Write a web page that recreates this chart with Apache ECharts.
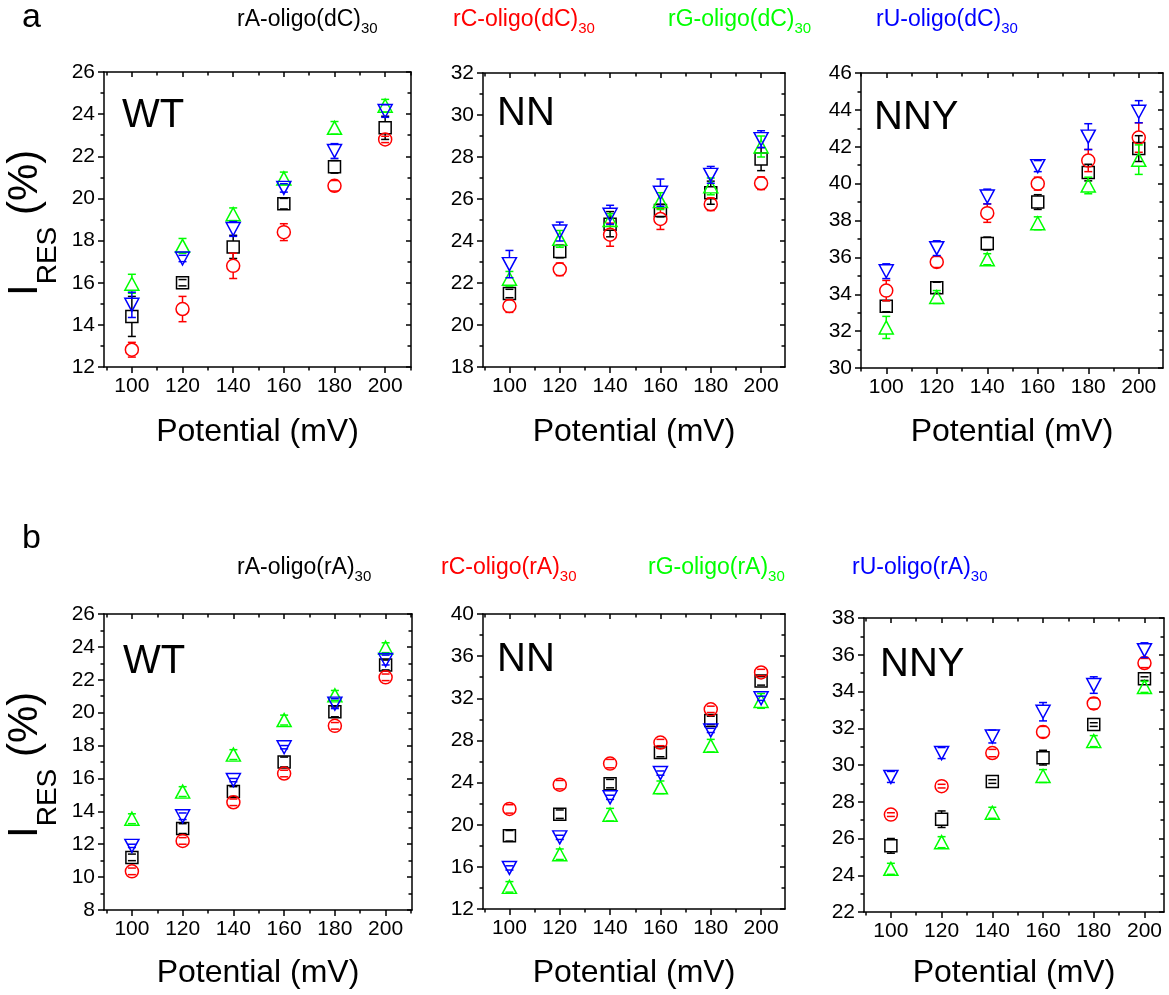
<!DOCTYPE html>
<html>
<head>
<meta charset="utf-8">
<script src="https://cdn.jsdelivr.net/npm/echarts@6/dist/echarts.min.js"></script>
<style>
  html, body { margin: 0; padding: 0; background: #ffffff; }
  #chart { width: 1169px; height: 995px; }
</style>
</head>
<body>
<div id="chart"></div>
<script>
// ---- data -------------------------------------------------------------
const potentials = [100, 120, 140, 160, 180, 200];          // mV
const seriesColors = ['#000000', '#ff0000', '#00ff00', '#0000ff'];
const legendDC = ['rA-oligo(dC)', 'rC-oligo(dC)', 'rG-oligo(dC)', 'rU-oligo(dC)'];
const legendRA = ['rA-oligo(rA)', 'rC-oligo(rA)', 'rG-oligo(rA)', 'rU-oligo(rA)'];
const legendSub = '30';
const panelNames = ['WT', 'NN', 'NNY', 'WT', 'NN', 'NNY'];

// rows: rA, rC, rG, rU  (I_RES in %)
const wtDC = [
  [14.4, 16.0, 17.7, 19.75, 21.5, 23.35],
  [12.82, 14.75, 16.8, 18.4, 20.6, 22.8],
  [15.95, 17.75, 19.25, 20.95, 23.35, 24.4],
  [14.95, 17.15, 18.55, 20.5, 22.25, 24.15]
];
const wtDCErr = [
  [0.95, 0.15, 0.55, 0.25, 0.3, 0.55],
  [0.35, 0.6, 0.6, 0.4, 0.25, 0.15],
  [0.45, 0.35, 0.3, 0.3, 0.3, 0.3],
  [0.6, 0.15, 0.35, 0.2, 0.35, 0.3]
];
const nnDC = [
  [21.5, 23.5, 24.8, 25.45, 26.3, 27.9],
  [20.9, 22.65, 24.3, 25.05, 25.75, 26.75],
  [22.2, 24.1, 25.0, 25.9, 26.6, 28.5],
  [22.9, 24.45, 25.25, 26.3, 27.15, 28.85]
];
const nnDCErr = [
  [0.2, 0.3, 0.6, 0.3, 0.55, 0.55],
  [0.3, 0.3, 0.55, 0.5, 0.3, 0.3],
  [0.35, 0.4, 0.3, 0.4, 0.4, 0.5],
  [0.65, 0.45, 0.45, 0.65, 0.4, 0.4]
];
const nnyDC = [
  [33.35, 34.35, 36.75, 39.0, 40.6, 41.9],
  [34.2, 35.75, 38.4, 40.0, 41.25, 42.5],
  [32.2, 33.85, 35.9, 37.85, 39.9, 41.3],
  [35.25, 36.5, 39.3, 40.95, 42.55, 43.9]
];
const nnyDCErr = [
  [0.3, 0.3, 0.35, 0.4, 0.45, 0.7],
  [0.55, 0.3, 0.5, 0.35, 0.6, 0.8],
  [0.6, 0.35, 0.3, 0.35, 0.45, 0.8],
  [0.4, 0.4, 0.4, 0.3, 0.7, 0.6]
];
const wtRA = [
  [11.2, 12.95, 15.2, 17.0, 20.05, 22.9],
  [10.35, 12.2, 14.55, 16.3, 19.2, 22.15],
  [13.55, 15.2, 17.45, 19.55, 21.05, 23.95],
  [11.9, 13.7, 15.9, 17.9, 20.55, 23.2]
];
const wtRAErr = [
  [0.2, 0.3, 0.3, 0.3, 0.3, 0.3],
  [0.2, 0.2, 0.2, 0.2, 0.2, 0.2],
  [0.3, 0.3, 0.3, 0.3, 0.3, 0.3],
  [0.1, 0.2, 0.1, 0.1, 0.3, 0.3]
];
const nnRA = [
  [18.95, 21.0, 23.9, 26.85, 29.9, 33.65],
  [21.5, 23.8, 25.8, 27.8, 30.95, 34.45],
  [14.1, 17.2, 20.95, 23.55, 27.5, 31.75],
  [15.9, 18.8, 22.6, 24.9, 28.95, 32.0]
];
const nnRAErr = [
  [0.5, 0.4, 0.4, 0.4, 0.4, 0.4],
  [0.4, 0.4, 0.4, 0.3, 0.3, 0.3],
  [0.5, 0.5, 0.6, 0.6, 0.6, 0.7],
  [0.2, 0.2, 0.2, 0.2, 0.2, 0.2]
];
const nnyRA = [
  [25.6, 27.05, 29.1, 30.4, 32.2, 34.7],
  [27.3, 28.85, 30.65, 31.8, 33.35, 35.55],
  [24.35, 25.8, 27.4, 29.4, 31.3, 34.25],
  [29.35, 30.65, 31.55, 32.9, 34.35, 36.25]
];
const nnyRAErr = [
  [0.4, 0.45, 0.1, 0.4, 0.1, 0.1],
  [0.1, 0.1, 0.2, 0.3, 0.3, 0.25],
  [0.3, 0.3, 0.3, 0.35, 0.3, 0.3],
  [0.3, 0.3, 0.35, 0.5, 0.45, 0.4]
];

// y-axis tick settings per panel: [min, max, interval]
const yScales = [[12, 26, 2], [18, 32, 2], [30, 46, 2], [8, 26, 2], [12, 40, 4], [22, 38, 2]];
const xMajor = [100, 120, 140, 160, 180, 200];
const xMinor = [90, 110, 130, 150, 170, 190, 210];

// ---- layout -----------------------------------------------------------
const panelMeans = [wtDC, nnDC, nnyDC, wtRA, nnRA, nnyRA];
const panelErrs = [wtDCErr, nnDCErr, nnyDCErr, wtRAErr, nnRAErr, nnyRAErr];
// [left, top, width, height, xMin, xMax]
const panelRects = [
  [104, 72, 307, 295, 89, 210.2],
  [483, 73, 302, 294, 89.5, 209.5],
  [861, 73, 302, 295, 90, 209.6],
  [104, 614, 308, 296, 89, 210.4],
  [483, 614, 302, 295, 89.5, 209.5],
  [864, 618, 300, 294, 89.4, 207.7]
];

const FONT = '"Liberation Sans", Arial, Helvetica, sans-serif';
const AX = '#000000';
const LW = 1.5;

const symbolDefs = [
  { symbol: 'rect', size: 12, rotate: 0 },
  { symbol: 'circle', size: 13, rotate: 0 },
  { symbol: 'triangle', size: [14, 13], rotate: 0 },
  { symbol: 'triangle', size: [14, 13], rotate: 180 }
];
const markerHalf = [6, 6.5, 6.5, 6.5];

const grids = [], xAxes = [], yAxes = [], series = [];

panelRects.forEach((r, k) => {
  grids.push({ left: r[0], top: r[1], width: r[2], height: r[3], containLabel: false });
  const [yMin, yMax, yInt] = yScales[k];
  const xBase = { gridIndex: k, type: 'value', min: r[4], max: r[5], splitLine: { show: false } };
  // bottom axis with labels and major ticks
  xAxes.push(Object.assign({}, xBase, {
    position: 'bottom',
    axisLine: { show: true, onZero: false, lineStyle: { color: AX, width: LW } },
    axisTick: { show: true, inside: false, length: 6, customValues: xMajor, lineStyle: { color: AX, width: LW } },
    axisLabel: { show: true, customValues: xMajor, fontSize: 21, fontFamily: FONT, color: '#000', margin: 9 }
  }));
  // bottom minor ticks
  xAxes.push(Object.assign({}, xBase, {
    position: 'bottom',
    axisLine: { show: false, onZero: false },
    axisTick: { show: true, inside: false, length: 3.5, customValues: xMinor, lineStyle: { color: AX, width: LW } },
    axisLabel: { show: false }
  }));
  // top frame with inward ticks
  xAxes.push(Object.assign({}, xBase, {
    position: 'top',
    axisLine: { show: true, onZero: false, lineStyle: { color: AX, width: LW } },
    axisTick: { show: true, inside: true, length: 5, customValues: xMajor, lineStyle: { color: AX, width: LW } },
    axisLabel: { show: false }
  }));
  xAxes.push(Object.assign({}, xBase, {
    position: 'top',
    axisLine: { show: false, onZero: false },
    axisTick: { show: true, inside: true, length: 3.5, customValues: xMinor, lineStyle: { color: AX, width: LW } },
    axisLabel: { show: false }
  }));

  const yBase = { gridIndex: k, type: 'value', min: yMin, max: yMax, interval: yInt,
    splitLine: { show: false }, minorSplitLine: { show: false } };
  yAxes.push(Object.assign({}, yBase, {
    position: 'left',
    axisLine: { show: true, onZero: false, lineStyle: { color: AX, width: LW } },
    axisTick: { show: true, inside: false, length: 6, lineStyle: { color: AX, width: LW } },
    minorTick: { show: true, splitNumber: 2, length: 3.5, lineStyle: { color: AX, width: LW } },
    axisLabel: { show: true, fontSize: 21, fontFamily: FONT, color: '#000', margin: 9 }
  }));
  yAxes.push(Object.assign({}, yBase, {
    position: 'right',
    axisLine: { show: true, onZero: false, lineStyle: { color: AX, width: LW } },
    axisTick: { show: true, inside: true, length: 5, lineStyle: { color: AX, width: LW } },
    minorTick: { show: true, splitNumber: 2, length: 3.5, lineStyle: { color: AX, width: LW } },
    axisLabel: { show: false }
  }));

  const xIdx = k * 4, yIdx = k * 2;
  panelMeans[k].forEach((means, s) => {
    const color = seriesColors[s];
    const errs = panelErrs[k][s];
    const half = markerHalf[s];
    series.push({
      type: 'custom',
      xAxisIndex: xIdx, yAxisIndex: yIdx,
      z: 2 + s * 2,
      silent: true,
      data: potentials.map((p, i) => [p, means[i], errs[i]]),
      renderItem: (params, api) => {
        const x = api.value(0), y = api.value(1), e = api.value(2);
        const c = api.coord([x, y]);
        const top = api.coord([x, y + e])[1];
        const bot = api.coord([x, y - e])[1];
        const cap = 4;
        const st = { stroke: color, lineWidth: LW, fill: null };
        const kids = [];
        // stems start at the marker edge
        if (c[1] - top > half) kids.push({ type: 'line', shape: { x1: c[0], y1: c[1] - half, x2: c[0], y2: top }, style: st });
        if (bot - c[1] > half) kids.push({ type: 'line', shape: { x1: c[0], y1: c[1] + half, x2: c[0], y2: bot }, style: st });
        kids.push({ type: 'line', shape: { x1: c[0] - cap, y1: top, x2: c[0] + cap, y2: top }, style: st });
        kids.push({ type: 'line', shape: { x1: c[0] - cap, y1: bot, x2: c[0] + cap, y2: bot }, style: st });
        return { type: 'group', children: kids };
      }
    });
    series.push({
      type: 'scatter',
      xAxisIndex: xIdx, yAxisIndex: yIdx,
      z: 3 + s * 2,
      silent: true,
      symbol: symbolDefs[s].symbol,
      symbolSize: symbolDefs[s].size,
      symbolRotate: symbolDefs[s].rotate,
      itemStyle: { color: 'rgba(0,0,0,0)', borderColor: color, borderWidth: LW, opacity: 1 },
      data: potentials.map((p, i) => [p, means[i]])
    });
  });
});

// ---- text helpers --------------------------------------------------------
const measureCtx = document.createElement('canvas').getContext('2d');
function textWidth(str, size) {
  measureCtx.font = size + 'px ' + FONT;
  return measureCtx.measureText(str).width;
}
// a run of text pieces sharing one baseline; each piece may shift below it
function textRun(x, baseline, parts, color, rotation) {
  let cx = 0;
  const children = parts.map(p => {
    const el = {
      type: 'text', x: cx, y: p.shift - 0.3465 * p.size,
      style: { text: p.text, fontSize: p.size, fontFamily: FONT, fill: color,
               align: 'left', verticalAlign: 'middle' }
    };
    cx += textWidth(p.text, p.size);
    return el;
  });
  return { type: 'group', x: x, y: baseline, rotation: rotation || 0, silent: true, children };
}

const graphics = [];
// panel letters
graphics.push({ type: 'text', x: 22, y: 18, silent: true,
  style: { text: 'a', fontSize: 34, fontFamily: FONT, fill: '#000', align: 'left', verticalAlign: 'middle' } });
graphics.push({ type: 'text', x: 22, y: 539, silent: true,
  style: { text: 'b', fontSize: 34, fontFamily: FONT, fill: '#000', align: 'left', verticalAlign: 'middle' } });

// colour-keyed series labels
const legendXA = [237, 453, 668, 876];
const legendXB = [237, 441, 648, 852];
legendDC.forEach((t, i) => graphics.push(textRun(legendXA[i], 28,
  [{ text: t, size: 23, shift: 0 }, { text: legendSub, size: 15, shift: 6 }], seriesColors[i])));
legendRA.forEach((t, i) => graphics.push(textRun(legendXB[i], 576,
  [{ text: t, size: 23, shift: 0 }, { text: legendSub, size: 15, shift: 6 }], seriesColors[i])));

// mutant names inside panels
const nameX = [122, 497, 874, 123, 497, 880];
const nameY = [116, 114, 118, 662, 660, 665];
panelNames.forEach((n, k) => graphics.push({ type: 'text', x: nameX[k], y: nameY[k], silent: true,
  style: { text: n, fontSize: 40, fontFamily: FONT, fill: '#000', align: 'left', verticalAlign: 'middle' } }));

// axis titles
panelRects.forEach((r, k) => {
  const yc = k < 3 ? 432 : 973;
  graphics.push({ type: 'text', x: r[0] + r[2] / 2, y: yc, silent: true,
    style: { text: 'Potential (mV)', fontSize: 32, fontFamily: FONT, fill: '#000', align: 'center', verticalAlign: 'middle' } });
});
[296, 838].forEach(yb => graphics.push(textRun(40, yb,
  [{ text: 'I', size: 42, shift: 0 }, { text: 'RES', size: 28, shift: 18 }, { text: ' (%)', size: 42, shift: 0 }],
  '#000', Math.PI / 2)));
// baseline of the rotated run sits at local y = 0 -> move group so that baseline x is 40
graphics.forEach(g => { if (g.rotation) { g.x = 40; } });

const chart = echarts.init(document.getElementById('chart'), null, { renderer: 'canvas' });
chart.setOption({
  animation: false,
  backgroundColor: '#ffffff',
  grid: grids,
  xAxis: xAxes,
  yAxis: yAxes,
  series: series,
  graphic: graphics
});
</script>
</body>
</html>
